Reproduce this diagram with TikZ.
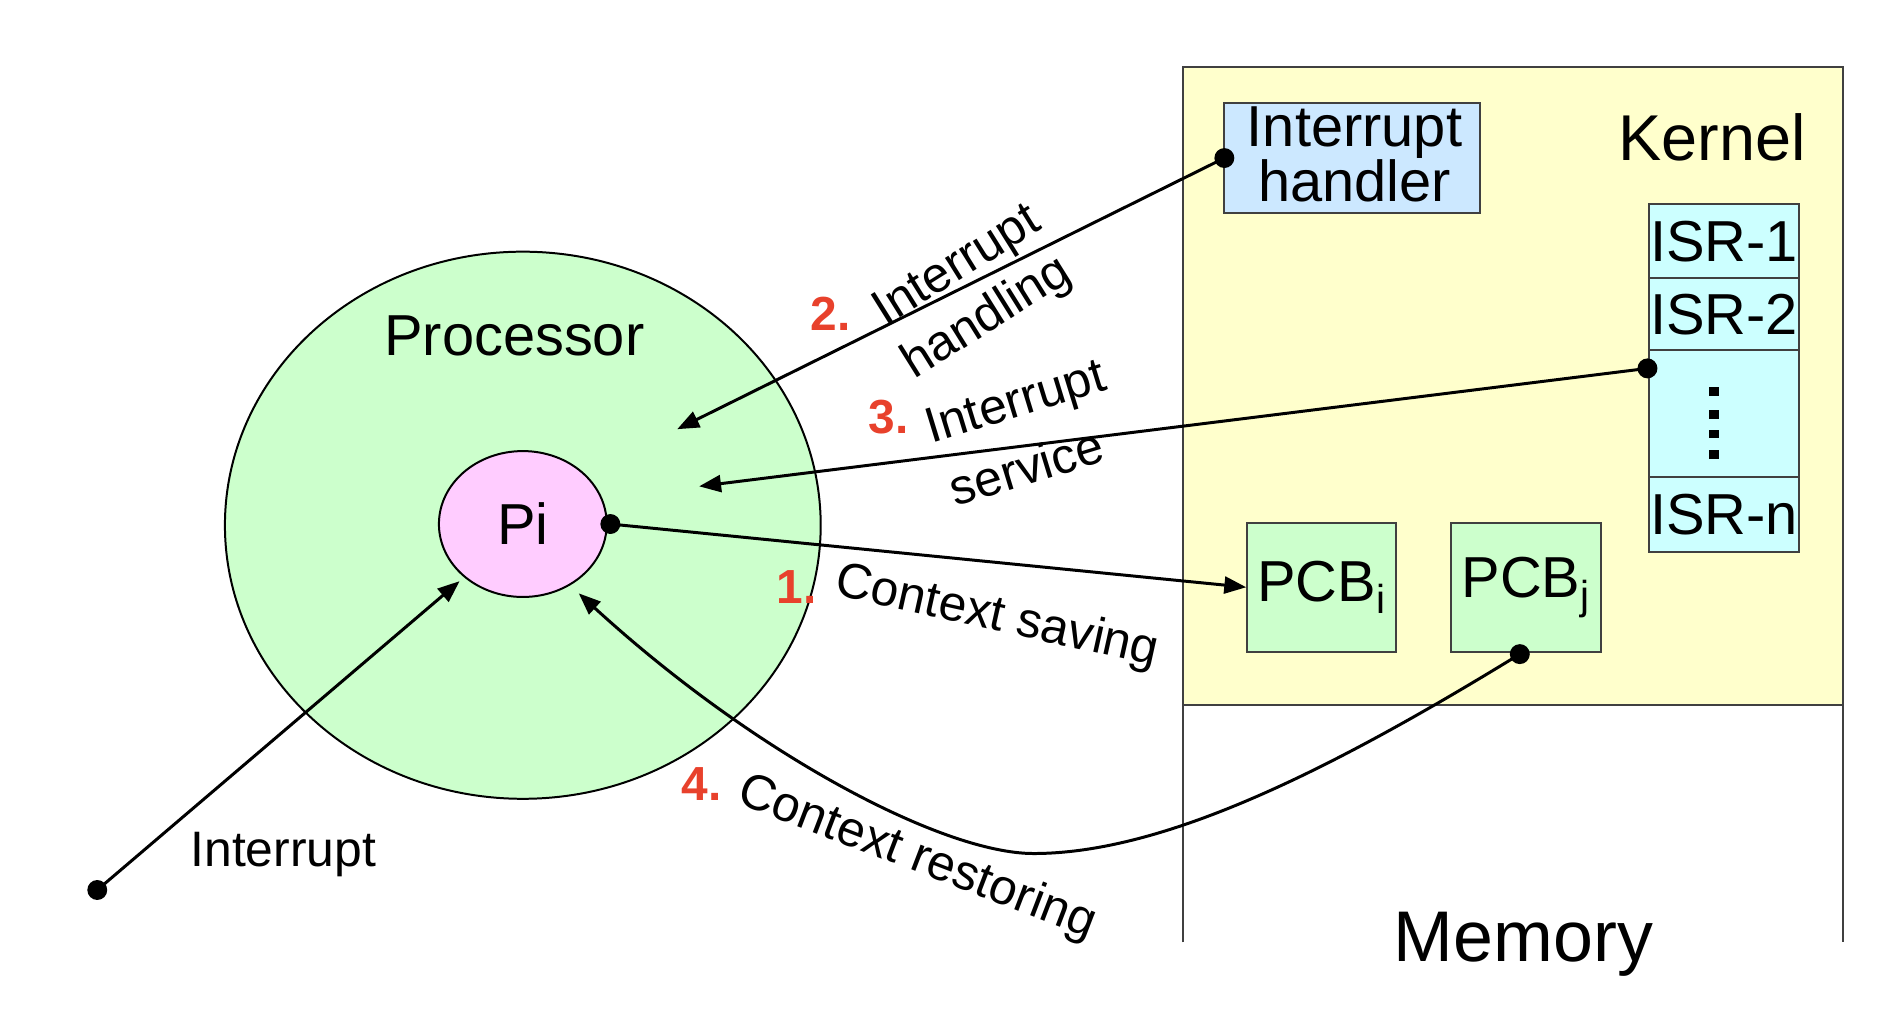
\documentclass[tikz,border=0pt]{standalone}
\usepackage{fontspec}
\setmainfont{Liberation Sans}
\usetikzlibrary{arrows.meta,shapes.geometric}
\definecolor{kern}{HTML}{FFFFCC}
\definecolor{procg}{HTML}{CCFFCC}
\definecolor{pink}{HTML}{FFCCFF}
\definecolor{ihblue}{HTML}{CCE8FF}
\definecolor{isrc}{HTML}{CCFFFF}
\definecolor{numred}{HTML}{E8412C}
\tikzset{
  box/.style={draw=black!75, line width=1pt, inner sep=0pt},
  txt/.style={font=\fontsize{29}{29}\selectfont, inner sep=0pt},
  lbl/.style={font=\fontsize{25}{25}\selectfont, inner sep=0pt},
  num/.style={font=\bfseries\fontsize{24}{24}\selectfont, text=numred, inner sep=0pt},
  conn/.style={line width=1.5pt, -{Triangle[length=11pt,width=8.5pt]}},
  dotc/.style={circle, fill=black, inner sep=0pt, minimum size=10pt},
}
\begin{document}
\begin{tikzpicture}[x=0.61pt,y=-0.61pt]
\useasboundingbox (0,0) rectangle (1566,830.7);
% memory / kernel
\fill[kern] (973,55) rectangle (1516,580);
\draw[black!75, line width=1pt] (973,775) -- (973,55) -- (1516,55) -- (1516,775);
\draw[black!75, line width=1pt] (973,580) -- (1516,580);
\node[font=\fontsize{36}{36}\selectfont, inner sep=0pt] (mem) at (1253,777) {Memory};
\node[font=\fontsize{32.5}{32.5}\selectfont, inner sep=0pt] (kern) at (1408,113) {Kernel};
% interrupt handler
\node[box, fill=ihblue, minimum width=210*0.61pt, minimum height=90*0.61pt] (ih) at (1112,130) {};
\node[txt, align=center, font=\fontsize{29}{27}\selectfont] at (1114,127) {Interrupt\\handler};
% ISR column
\node[box, fill=isrc, minimum width=124*0.61pt, minimum height=61*0.61pt] (isr1) at (1418,198.5) {};
\node[box, fill=isrc, minimum width=124*0.61pt, minimum height=59*0.61pt] (isr2) at (1418,258.5) {};
\node[box, fill=isrc, minimum width=124*0.61pt, minimum height=104*0.61pt] (isrd) at (1418,340) {};
\node[box, fill=isrc, minimum width=124*0.61pt, minimum height=62*0.61pt] (isrn) at (1418,423) {};
\node[txt] at (isr1) {ISR-1};
\node[txt] at (isr2) {ISR-2};
\node[txt] at (isrn) {ISR-n};
\foreach \yy in {322,341,357,374} \fill (1406,\yy-3.5) rectangle (1414,\yy+3.5);
% PCBs
\node[box, fill=procg, minimum width=123*0.61pt, minimum height=106*0.61pt] (pcbi) at (1087,483) {};
\node[box, fill=procg, minimum width=123*0.61pt, minimum height=106*0.61pt] (pcbj) at (1255,483) {};
\node[txt] at (pcbi) {PCB\textsubscript{i}};
\node[txt] at (pcbj) {PCB\textsubscript{j}};
% processor
\node[ellipse, draw=black, line width=1pt, fill=procg, minimum width=490*0.61pt, minimum height=450*0.61pt, inner sep=0pt] (proc) at (430,432) {};
\node[txt] at (423,276) {Processor};
\node[ellipse, draw=black, line width=1pt, fill=pink, minimum width=138*0.61pt, minimum height=120*0.61pt, inner sep=0pt] (pi) at (430,431) {};
\node[txt] at (pi) {Pi};
% anchor coordinates
\coordinate (src) at (80,732);
\coordinate (pie) at (502,431);
\coordinate (ihd) at (1007,130);
\coordinate (isrdot) at (1355,303);
\coordinate (pcbjd) at (1250,538);
\coordinate (t1) at (1025,483);
\coordinate (t2) at (557,353);
\coordinate (t3) at (575,400);
\coordinate (t4) at (476,488);
\coordinate (ti) at (378,478);
% connectors
\draw[conn] (src) -- (ti);
\draw[conn] (pie) -- (t1);
\draw[conn] (ihd) -- (t2);
\draw[conn] (isrdot) -- (t3);
\draw[conn] (pcbjd) .. controls (1100,630) and (960,702) .. (850,702) .. controls (775,702) and (620,620) .. (t4);
\node[dotc] at (src) {};
\node[dotc] at (pie) {};
\node[dotc] at (ihd) {};
\node[dotc] at (isrdot) {};
\node[dotc] at (pcbjd) {};
% labels
\node[lbl] at (233,703) {Interrupt};
\node[num] at (655,483) {1.};
\node[lbl, rotate=-12.5] at (820,508) {Context saving};
\node[num] at (683,258) {2.};
\node[lbl, rotate=32] at (788,220) {Interrupt};
\node[lbl, rotate=32] at (812,262) {handling};
\node[num] at (731,343) {3.};
\node[lbl, rotate=17] at (836,333) {Interrupt};
\node[lbl, rotate=17] at (844,384) {service};
\node[num] at (577,645) {4.};
\node[lbl, rotate=-21] at (754,706) {Context restoring};
\end{tikzpicture}
\end{document}
